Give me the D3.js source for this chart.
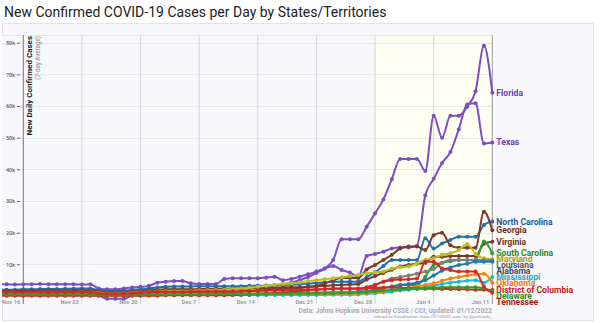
<!DOCTYPE html>
<html>
<head>
<meta charset="utf-8">
<script src="https://cdn.jsdelivr.net/npm/d3@7/dist/d3.min.js"></script>
<style>
  body { margin: 0; background: #fff; }
  text { font-family: Roboto, "Noto Sans", "DejaVu Sans", sans-serif; }
</style>
</head>
<body>
<svg id="chart" width="600" height="323"></svg>
<script>
// ---- data: 7-day average of new confirmed cases, thousands per day, Nov 13 2021 .. Jan 11 2022 ----
const firstDay = "2021-11-13";
const xTickDates = ["2021-11-16","2021-11-23","2021-11-30","2021-12-07","2021-12-14","2021-12-21","2021-12-28","2022-01-04","2022-01-11"];
const xTickLabels = ["Nov 16","Nov 23","Nov 30","Dec 7","Dec 14","Dec 21","Dec 28","Jan 4","Jan 11"];
const yTickValues = [10, 20, 30, 40, 50, 60, 70, 80];
const yTickLabels = ["10k","20k","30k","40k","50k","60k","70k","80k"];

const stateNames = ["Florida","Texas","North Carolina","Georgia","Virginia","South Carolina","Maryland",
  "Louisiana","Alabama","Mississippi","Oklahoma","District of Columbia","Delaware","Tennessee"];

const florida = [
  1.5,1.5,1.5,1.4,1.5,1.5,1.4,
  1.4,1.4,1.5,1.5,1.4,0.3,-0.9,
  -0.9,-0.9,0.3,1.4,1.5,1.6,1.6,
  1.7,1.7,1.8,1.9,2.0,2.1,2.2,
  2.3,2.4,2.5,2.7,2.9,3.2,3.6,
  4.2,5.0,6.0,7.3,8.7,11.4,17.9,
  17.9,17.9,21.9,26.1,30.5,36.9,43.3,
  43.3,43.3,39.5,56.9,50.0,56.9,56.9,
  59.8,64.7,79.0,64.2];
const texas = [
  3.7,3.7,3.6,3.7,3.7,3.8,3.7,
  3.7,3.7,3.7,3.6,3.7,2.4,2.1,
  2.1,2.4,2.7,2.9,3.2,4.2,4.5,
  4.7,4.7,4.0,3.8,3.8,3.8,5.4,
  5.6,5.6,5.6,5.6,5.8,6.1,5.0,
  5.4,6.1,6.9,7.7,8.7,9.5,8.2,
  7.4,6.1,12.6,13.3,14.0,15.0,15.3,
  15.3,15.9,31.8,37.0,42.0,45.5,52.7,
  60.5,60.9,48.2,48.5];
const northCarolina = [
  2.0,2.0,2.0,2.1,2.1,2.2,2.2,
  2.2,2.3,2.3,2.4,2.4,1.8,1.6,
  1.6,1.7,1.9,2.1,2.4,2.7,2.9,
  3.0,3.0,3.0,3.1,3.1,3.1,3.1,
  3.1,3.1,3.2,3.2,3.3,3.4,3.5,
  3.6,3.7,3.9,4.1,4.3,4.5,4.5,
  4.5,4.6,6.0,7.5,9.5,11.4,11.4,
  11.4,11.4,18.2,15.0,16.6,17.7,18.7,
  18.7,18.7,22.4,23.5];
const georgia = [
  1.1,1.1,1.0,1.0,1.0,1.0,1.0,
  1.0,1.0,1.0,1.0,1.0,0.8,0.7,
  0.7,0.7,0.8,0.9,1.0,1.1,1.1,
  1.1,1.1,1.1,1.2,1.2,1.3,1.3,
  1.3,1.4,1.5,1.7,1.9,2.1,2.3,
  2.4,2.6,2.9,3.2,4.0,5.0,5.7,
  5.7,5.7,8.4,9.8,11.4,13.0,15.0,
  15.6,15.6,14.5,19.2,20.0,16.0,15.2,
  15.2,15.2,26.6,20.8];
const virginia = [
  1.6,1.6,1.6,1.6,1.7,1.7,1.7,
  1.7,1.7,1.8,1.8,1.8,1.4,1.2,
  1.2,1.2,1.4,1.6,1.8,2.0,2.1,
  2.1,2.1,2.1,2.2,2.2,2.3,2.3,
  2.3,2.3,2.4,2.4,2.5,2.6,2.7,
  2.8,2.8,2.9,3.0,3.2,3.4,3.5,
  3.6,3.8,5.2,6.3,7.3,8.3,9.3,
  9.8,10.2,10.5,12.4,12.4,12.6,12.6,
  12.6,12.6,16.5,17.1];
const southCarolina = [
  0.7,0.7,0.7,0.7,0.7,0.7,0.7,
  0.7,0.7,0.7,0.7,0.7,0.5,0.5,
  0.5,0.5,0.6,0.6,0.7,0.7,0.7,
  0.7,0.7,0.7,0.7,0.8,0.8,0.8,
  0.8,0.8,0.8,0.8,0.9,0.9,0.9,
  0.9,1.0,1.0,1.1,1.1,1.2,1.2,
  1.2,1.2,1.5,2.0,2.5,3.0,3.5,
  3.5,3.5,6.1,9.8,10.5,11.0,11.4,
  11.4,11.4,17.2,13.5];
const maryland = [
  1.0,1.0,1.0,1.0,1.0,1.1,1.1,
  1.1,1.1,1.1,1.2,1.2,1.0,0.9,
  0.9,0.9,1.0,1.2,1.3,1.4,1.5,
  1.5,1.5,1.6,1.7,1.8,1.9,2.0,
  2.2,2.4,2.6,2.9,3.2,3.5,3.8,
  4.0,4.3,4.7,5.0,5.3,5.6,5.9,
  6.3,6.6,7.2,7.5,7.7,8.7,9.1,
  9.3,10.3,11.4,11.9,13.0,13.5,14.5,
  16.4,13.3,11.9,11.6];
const louisiana = [
  0.3,0.3,0.3,0.3,0.3,0.3,0.3,
  0.3,0.3,0.3,0.3,0.3,0.2,0.2,
  0.2,0.2,0.2,0.3,0.3,0.3,0.3,
  0.3,0.3,0.3,0.3,0.3,0.3,0.3,
  0.3,0.3,0.3,0.4,0.4,0.4,0.5,
  0.5,0.6,0.7,0.8,0.9,1.0,1.1,
  1.2,1.5,2.5,3.5,4.5,5.5,6.0,
  6.5,7.0,7.7,8.5,10.5,11.4,11.4,
  11.4,11.4,11.4,11.3];
const alabama = [
  0.5,0.5,0.5,0.5,0.5,0.5,0.5,
  0.5,0.5,0.5,0.5,0.5,0.4,0.3,
  0.3,0.3,0.4,0.4,0.5,0.5,0.5,
  0.5,0.5,0.5,0.5,0.5,0.5,0.5,
  0.5,0.5,0.5,0.5,0.5,0.6,0.6,
  0.6,0.6,0.6,0.7,0.7,0.7,0.8,
  0.8,0.9,1.5,2.0,2.5,3.0,3.5,
  3.8,4.2,5.0,6.5,8.0,9.0,9.8,
  10.2,10.8,10.8,10.8];
const mississippi = [
  0.3,0.3,0.3,0.3,0.3,0.3,0.3,
  0.3,0.3,0.3,0.3,0.3,0.2,0.2,
  0.2,0.2,0.2,0.3,0.3,0.3,0.3,
  0.3,0.3,0.3,0.3,0.3,0.3,0.3,
  0.3,0.3,0.3,0.3,0.3,0.3,0.3,
  0.3,0.3,0.3,0.3,0.4,0.4,0.4,
  0.4,0.5,0.7,0.9,1.1,1.4,1.7,
  2.0,2.3,2.8,3.3,3.8,4.2,4.5,
  4.8,5.0,4.2,6.0];
const oklahoma = [
  0.7,0.7,0.7,0.7,0.7,0.7,0.7,
  0.7,0.7,0.7,0.7,0.7,0.5,0.5,
  0.5,0.5,0.6,0.7,0.7,0.7,0.7,
  0.7,0.7,0.7,0.7,0.7,0.7,0.7,
  0.7,0.7,0.7,0.7,0.7,0.7,0.7,
  0.7,0.7,0.7,0.7,0.7,0.7,0.7,
  0.7,0.7,0.9,1.2,1.5,1.9,2.3,
  2.6,3.0,3.5,4.0,4.8,5.5,6.0,
  6.5,6.8,7.0,4.2];
const districtOfColumbia = [
  0.1,0.1,0.1,0.1,0.1,0.1,0.1,
  0.1,0.1,0.1,0.1,0.1,0.1,0.1,
  0.1,0.1,0.1,0.1,0.1,0.1,0.2,
  0.2,0.2,0.2,0.2,0.2,0.2,0.2,
  0.3,0.4,0.5,0.6,0.7,0.9,1.1,
  1.3,1.5,1.8,2.0,2.2,2.3,2.4,
  2.4,2.4,2.5,2.6,2.7,2.7,2.6,
  2.5,2.4,2.3,2.3,2.2,2.2,2.1,
  2.1,2.0,2.0,1.9];
const delaware = [
  0.5,0.5,0.5,0.5,0.5,0.5,0.5,
  0.5,0.5,0.5,0.5,0.5,0.4,0.4,
  0.4,0.4,0.4,0.5,0.5,0.5,0.5,
  0.5,0.5,0.5,0.5,0.5,0.6,0.6,
  0.6,0.6,0.6,0.6,0.7,0.7,0.7,
  0.7,0.8,0.8,0.8,0.9,0.9,1.0,
  1.0,1.1,1.3,1.5,1.7,1.9,2.1,
  2.2,2.3,2.5,2.6,2.7,2.8,2.8,
  2.8,2.8,2.4,1.6];
const tennessee = [
  1.2,1.2,1.2,1.2,1.2,1.2,1.2,
  1.2,1.2,1.2,1.2,1.2,0.9,0.8,
  0.8,0.8,0.9,1.1,1.2,1.3,1.3,
  1.3,1.3,1.4,1.4,1.4,1.5,1.5,
  1.5,1.5,1.6,1.6,1.7,1.7,1.8,
  1.8,1.9,2.0,2.1,2.2,2.3,2.3,
  2.3,2.3,2.8,3.5,4.5,5.0,5.2,
  5.3,5.5,10.8,10.8,8.7,8.2,7.7,
  7.7,7.7,2.9,1.0];

const seriesValues = [florida, texas, northCarolina, georgia, virginia, southCarolina, maryland,
  louisiana, alabama, mississippi, oklahoma, districtOfColumbia, delaware, tennessee];
const lineColors = ["#7b4fc0","#7b4fc0","#1f6fb2","#7a3b2e","#7a3b2e","#2ca02c","#bcbd22",
  "#7f7f7f","#1f77b4","#17becf","#ff7f0e","#d62728","#2ca02c","#d62728"];
const labelColors = ["#6a3fb2","#6a3fb2","#1a5a9c","#6b3327","#6e3427","#2a8a2a","#a3a21b",
  "#555555","#334466","#19a8bd","#f07a10","#c41818","#228b22","#b01414"];

// ---- layout ----
const svg = d3.select("#chart");
const parse = d3.timeParse("%Y-%m-%d");
const start = parse(firstDay);
const plotLeft = 2, plotTop = 35, plotBottom = 297;

const x = d3.scaleTime()
  .domain([parse("2021-11-16"), parse("2022-01-11")])
  .range([23.3, 492.3]);
const y = d3.scaleLinear().domain([0, 80]).range([296, 42.7]);
const plotRight = x(parse("2022-01-11"));

// title
svg.append("text")
  .attr("x", 4).attr("y", 17)
  .attr("font-size", 14).attr("fill", "#222")
  .text("New Confirmed COVID-19 Cases per Day by States/Territories");

// outer panel
svg.append("rect")
  .attr("x", 2.5).attr("y", 23.5).attr("width", 591).attr("height", 297)
  .attr("fill", "#f9f9fd").attr("stroke", "#e3e3e8");

// plot background, with the last two weeks tinted
svg.append("rect")
  .attr("x", plotLeft).attr("y", plotTop)
  .attr("width", plotRight - plotLeft).attr("height", plotBottom - plotTop)
  .attr("fill", "#f7f7fc");
svg.append("rect")
  .attr("x", x(parse("2021-12-28"))).attr("y", plotTop)
  .attr("width", plotRight - x(parse("2021-12-28"))).attr("height", plotBottom - plotTop)
  .attr("fill", "#fefef3");
svg.append("line")
  .attr("x1", plotLeft).attr("x2", plotRight).attr("y1", plotTop + 0.5).attr("y2", plotTop + 0.5)
  .attr("stroke", "#e6e6ea");

// horizontal grid
svg.append("g").selectAll("line").data(yTickValues).join("line")
  .attr("x1", plotLeft).attr("x2", plotRight)
  .attr("y1", d => Math.round(y(d)) + 0.5).attr("y2", d => Math.round(y(d)) + 0.5)
  .attr("stroke", "#e7e7ee");

// vertical week grid
const tickDates = xTickDates.map(parse);
svg.append("g").selectAll("line").data(tickDates).join("line")
  .attr("x1", d => x(d)).attr("x2", d => x(d))
  .attr("y1", plotTop).attr("y2", 304)
  .attr("stroke", (d, i) => i === 0 ? "#777" : (i === tickDates.length - 1 ? "#999" : "#d4d4d8"))
  .attr("stroke-width", 1);

// x tick labels, sitting just left of each week line
svg.append("g").selectAll("text").data(tickDates).join("text")
  .attr("x", d => x(d) - 3).attr("y", 304)
  .attr("text-anchor", "end")
  .attr("font-size", 5.8).attr("font-weight", 700).attr("fill", "#9a9aa0")
  .text((d, i) => xTickLabels[i]);

// y axis ticks
const yAxis = d3.axisLeft(y).tickValues(yTickValues)
  .tickFormat((d, i) => yTickLabels[i]).tickSize(3).tickPadding(2);
const gy = svg.append("g").attr("transform", "translate(20,0)").call(yAxis);
gy.select(".domain").remove();
gy.selectAll(".tick line").attr("stroke", "#666");
gy.selectAll(".tick text").attr("font-size", 5.6).attr("fill", "#444")
  .attr("font-family", "Roboto, sans-serif");

// y axis title
svg.append("text")
  .attr("transform", "translate(31.5,36) rotate(-90)")
  .attr("text-anchor", "end").attr("font-size", 8).attr("font-weight", 700).attr("fill", "#222")
  .text("New Daily Confirmed Cases");
svg.append("text")
  .attr("transform", "translate(39.5,36) rotate(-90)")
  .attr("text-anchor", "end").attr("font-size", 6.3).attr("fill", "#888")
  .text("(7-day Average)");

// series
const series = stateNames.map((name, k) => ({
  name,
  color: lineColors[k],
  labelColor: labelColors[k],
  points: seriesValues[k].map((v, i) => ({ date: d3.timeDay.offset(start, i), v }))
}));

svg.append("defs").append("clipPath").attr("id", "plotClip")
  .append("rect").attr("x", plotLeft).attr("y", 0).attr("width", plotRight - plotLeft + 4).attr("height", 323);

const line = d3.line().x(d => x(d.date)).y(d => y(d.v)).curve(d3.curveMonotoneX);
const gLines = svg.append("g").attr("clip-path", "url(#plotClip)");
series.forEach(s => {
  const g = gLines.append("g");
  g.append("path").attr("d", line(s.points))
    .attr("fill", "none").attr("stroke", s.color).attr("stroke-width", 2)
    .attr("stroke-linejoin", "round");
  g.selectAll("circle").data(s.points).join("circle")
    .attr("cx", d => x(d.date)).attr("cy", d => y(d.v)).attr("r", 2)
    .attr("fill", s.color);
});

// end labels, pushed apart so they do not overlap
const labelGap = 5.8;
const ends = series.map(s => ({ s, y0: y(s.points[s.points.length - 1].v) }))
  .sort((a, b) => a.y0 - b.y0);
let prev = -Infinity;
ends.forEach(e => { e.ly = Math.max(e.y0, prev + labelGap); prev = e.ly; });
svg.append("g").selectAll("text").data(ends).join("text")
  .attr("x", plotRight + 4).attr("y", d => d.ly)
  .attr("dy", "0.35em")
  .attr("font-size", 8.6).attr("font-weight", 700)
  .attr("fill", d => d.s.labelColor)
  .text(d => d.s.name);

// source notes
svg.append("text")
  .attr("x", 492).attr("y", 313).attr("text-anchor", "end")
  .attr("font-size", 6.6).attr("font-weight", 700).attr("fill", "#aaaab0")
  .text("Data: Johns Hopkins University CSSE / CCI; Updated: 01/12/2022");
svg.append("text")
  .attr("x", 492).attr("y", 317.8).attr("text-anchor", "end")
  .attr("font-size", 4.2).attr("fill", "#999")
  .text("Interactive Visualization: https://91-DIVOC.com/ by @profwade_");
</script>
</body>
</html>
